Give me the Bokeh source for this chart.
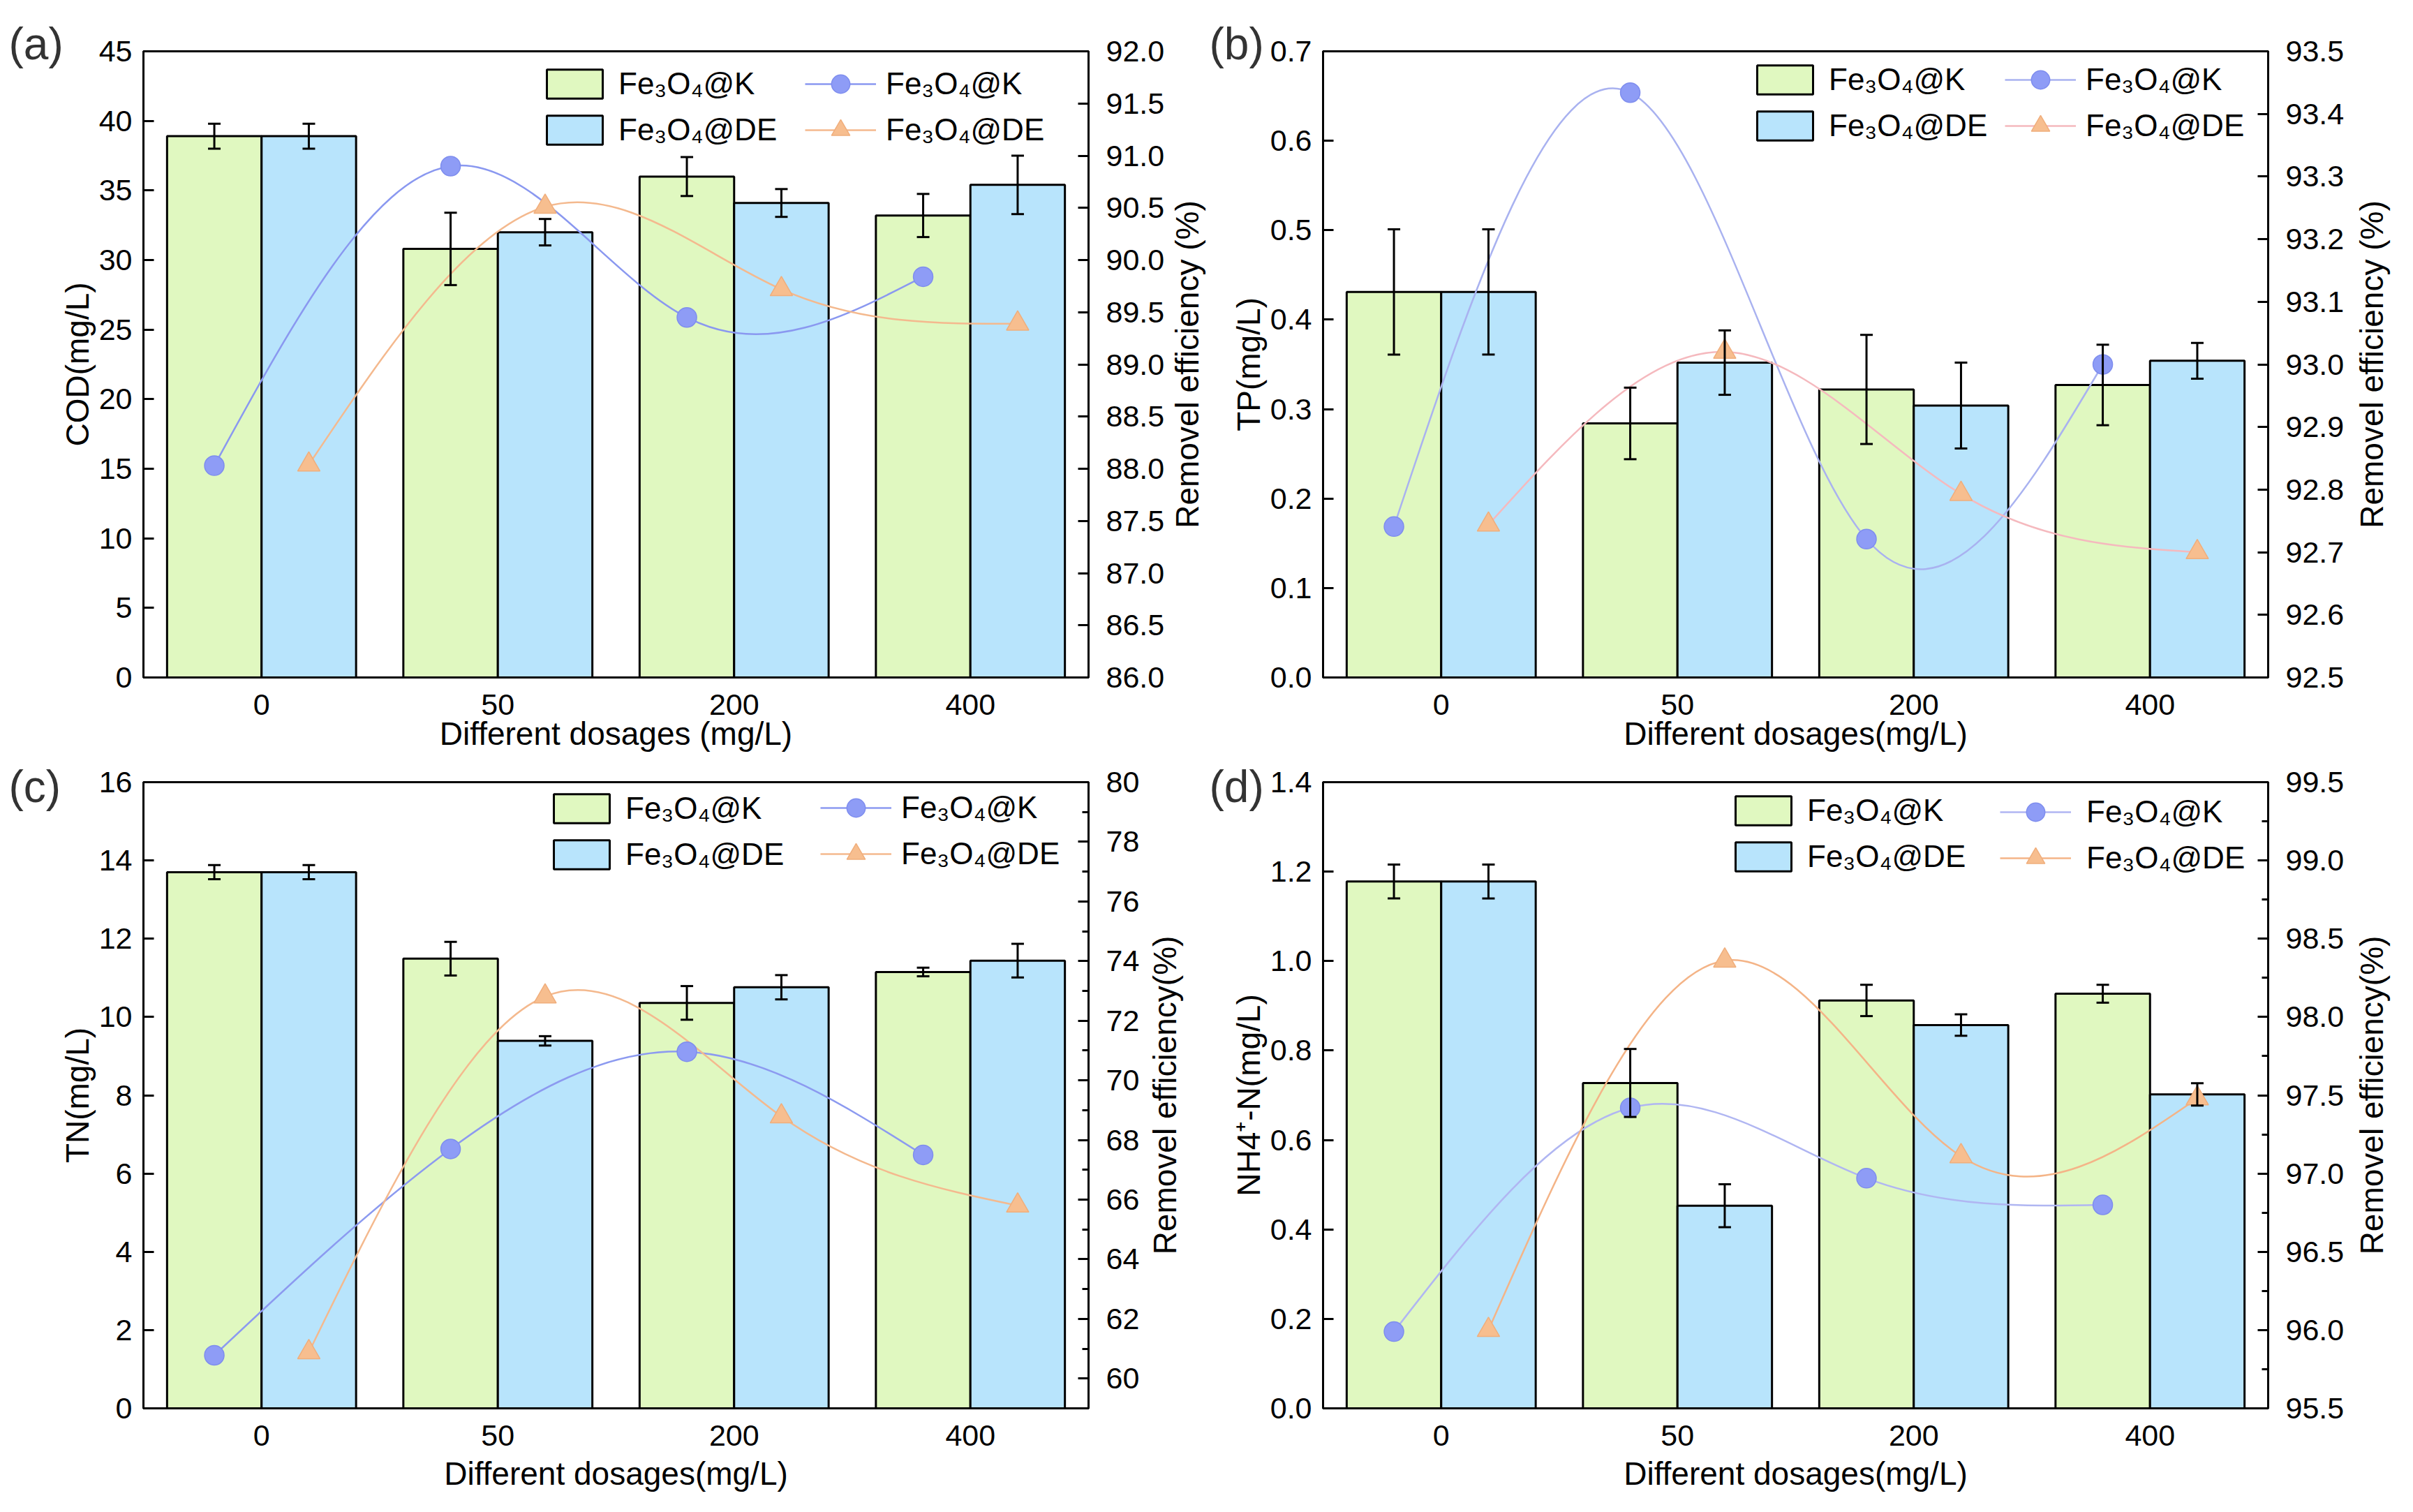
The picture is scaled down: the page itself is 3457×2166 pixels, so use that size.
import math
import numpy as np
from bokeh.plotting import figure
from bokeh.models import (ColumnDataSource, Range1d, LinearAxis, FixedTicker, Whisker, TeeHead,
                          Legend, LegendItem, Title, PrintfTickFormatter)
from bokeh.layouts import column, row
from bokeh.embed import file_html
from bokeh.resources import INLINE

# ---------------- data ----------------
dosages = ["0", "50", "200", "400"]
series_names = ["Fe\u2083O\u2084@K", "Fe\u2083O\u2084@DE"]

# (a) COD
cod_k = [38.9, 30.8, 36.0, 33.2]
cod_k_err = [0.9, 2.6, 1.4, 1.55]
cod_de = [38.9, 32.0, 34.1, 35.4]
cod_de_err = [0.9, 0.95, 1.0, 2.1]
cod_eff_k = [88.03, 90.90, 89.45, 89.84]
cod_eff_de = [88.04, 90.51, 89.72, 89.39]

# (b) TP
tp_k = [0.431, 0.284, 0.322, 0.327]
tp_k_err = [0.07, 0.04, 0.061, 0.045]
tp_de = [0.431, 0.352, 0.304, 0.354]
tp_de_err = [0.07, 0.036, 0.048, 0.02]
tp_eff_k = [92.741, 93.434, 92.721, 93.000]
tp_eff_de = [92.744, 93.020, 92.793, 92.700]

# (c) TN
tn_k = [13.70, 11.49, 10.36, 11.15]
tn_k_err = [0.18, 0.43, 0.43, 0.11]
tn_de = [13.70, 9.39, 10.76, 11.44]
tn_de_err = [0.18, 0.12, 0.31, 0.43]
tn_eff_k = [60.78, 67.70, 70.96, 67.50]
tn_eff_de = [60.88, 72.81, 68.79, 65.80]

# (d) NH4+-N
nh_k = [1.178, 0.7275, 0.912, 0.927]
nh_k_err = [0.038, 0.076, 0.035, 0.02]
nh_de = [1.178, 0.453, 0.857, 0.702]
nh_de_err = [0.038, 0.048, 0.024, 0.025]
nh_eff_k = [95.99, 97.42, 96.97, 96.80]
nh_eff_de = [96.00, 98.36, 97.11, 97.48]

# axis ticks
cod_ticks = [0, 5, 10, 15, 20, 25, 30, 35, 40, 45]
cod_eff_ticks = [86.0, 86.5, 87.0, 87.5, 88.0, 88.5, 89.0, 89.5, 90.0, 90.5, 91.0, 91.5, 92.0]
tp_ticks = [0.0, 0.1, 0.2, 0.3, 0.4, 0.5, 0.6, 0.7]
tp_eff_ticks = [92.5, 92.6, 92.7, 92.8, 92.9, 93.0, 93.1, 93.2, 93.3, 93.4, 93.5]
tn_ticks = [0, 2, 4, 6, 8, 10, 12, 14, 16]
tn_eff_ticks = [60, 62, 64, 66, 68, 70, 72, 74, 76, 78, 80]
tn_eff_minor = [59, 61, 63, 65, 67, 69, 71, 73, 75, 77, 79]
nh_ticks = [0.0, 0.2, 0.4, 0.6, 0.8, 1.0, 1.2, 1.4]
nh_eff_ticks = [95.5, 96.0, 96.5, 97.0, 97.5, 98.0, 98.5, 99.0, 99.5]
nh_eff_minor = [95.75, 96.25, 96.75, 97.25, 97.75, 98.25, 98.75, 99.25]

FONT = "Liberation Sans"
GREEN = "#E0F8C0"
BLUE = "#B8E4FC"
CIRCLE_FILL = "#8E9CF6"
TRI_FILL = "#F7BE8F"


def spline_bezier(xs, ys):
    """Natural cubic spline through the data, expressed as cubic Bezier segments."""
    x = np.asarray(xs, float)
    y = np.asarray(ys, float)
    n = len(x)
    h = np.diff(x)
    A = np.zeros((n, n))
    b = np.zeros(n)
    A[0, 0] = 1.0
    A[-1, -1] = 1.0
    for i in range(1, n - 1):
        A[i, i - 1] = h[i - 1]
        A[i, i] = 2 * (h[i - 1] + h[i])
        A[i, i + 1] = h[i]
        b[i] = 6 * ((y[i + 1] - y[i]) / h[i] - (y[i] - y[i - 1]) / h[i - 1])
    M = np.linalg.solve(A, b)
    s = np.diff(y) / h
    d0 = s - h * (2 * M[:-1] + M[1:]) / 6
    d1 = s + h * (M[:-1] + 2 * M[1:]) / 6
    return dict(x0=x[:-1], y0=y[:-1], x1=x[1:], y1=y[1:],
                cx0=x[:-1] + h / 3, cy0=y[:-1] + d0 * h / 3,
                cx1=x[1:] - h / 3, cy1=y[1:] - d1 * h / 3)


def style_axis(ax, standoff, label_standoff, tick_in=15):
    ax.axis_line_width = 3
    ax.axis_line_color = "black"
    ax.major_tick_line_width = 3
    ax.major_tick_in = tick_in
    ax.major_tick_out = 0
    ax.minor_tick_line_width = 3
    ax.minor_tick_in = 9
    ax.minor_tick_out = 0
    ax.major_label_text_font = FONT
    ax.major_label_text_font_size = "43px"
    ax.major_label_text_color = "black"
    ax.major_label_standoff = standoff
    ax.axis_label_text_font = FONT
    ax.axis_label_text_font_size = "46px"
    ax.axis_label_text_font_style = "normal"
    ax.axis_label_text_color = "black"
    ax.axis_label_standoff = label_standoff


def make_panel(tag, k, k_err, de, de_err, eff_k, eff_de,
               yl, yl_ticks, yl_fmt, yr, yr_ticks, yr_minor, yr_fmt,
               ylabel, xlabel, width, height, borders,
               k_color, de_color, bar_leg, line_leg, line_leg_standoff,
               tag_offset, tag_standoff, x_standoffs):
    bl, br, bt, bb = borders
    p = figure(width=width, height=height, output_backend="svg", toolbar_location=None,
               x_range=Range1d(-0.5, len(dosages) - 0.5), y_range=Range1d(*yl),
               min_border_left=bl, min_border_right=br, min_border_top=bt, min_border_bottom=bb)
    p.extra_y_ranges = {"eff": Range1d(*yr)}
    p.xgrid.visible = False
    p.ygrid.visible = False
    p.outline_line_color = "black"
    p.outline_line_width = 3
    p.outline_line_alpha = 1.0
    p.background_fill_color = "white"
    p.border_fill_color = "white"

    idx = np.arange(len(dosages), dtype=float)
    xk = idx - 0.2
    xd = idx + 0.2
    k = np.asarray(k, float)
    de = np.asarray(de, float)
    src = ColumnDataSource(dict(xk=xk, xd=xd, k=k, de=de,
                                ku=k + np.asarray(k_err), kl=k - np.asarray(k_err),
                                du=de + np.asarray(de_err), dl=de - np.asarray(de_err),
                                ek=eff_k, ed=eff_de))

    vb_k = p.vbar(x="xk", top="k", bottom=0, width=0.4, source=src,
                  fill_color=GREEN, line_color="black", line_width=3)
    vb_d = p.vbar(x="xd", top="de", bottom=0, width=0.4, source=src,
                  fill_color=BLUE, line_color="black", line_width=3)

    for base, up, lo in (("xk", "ku", "kl"), ("xd", "du", "dl")):
        w = Whisker(source=src, base=base, upper=up, lower=lo, dimension="height",
                    line_color="black", line_width=3, level="glyph",
                    upper_head=TeeHead(size=18, line_width=3, line_color="black"),
                    lower_head=TeeHead(size=18, line_width=3, line_color="black"))
        p.add_layout(w)

    bz_k = p.bezier(x0="x0", y0="y0", x1="x1", y1="y1", cx0="cx0", cy0="cy0", cx1="cx1", cy1="cy1",
                    source=ColumnDataSource(spline_bezier(xk, eff_k)),
                    line_color=k_color, line_width=2.5, y_range_name="eff")
    bz_d = p.bezier(x0="x0", y0="y0", x1="x1", y1="y1", cx0="cx0", cy0="cy0", cx1="cx1", cy1="cy1",
                    source=ColumnDataSource(spline_bezier(xd, eff_de)),
                    line_color=de_color, line_width=2.5, y_range_name="eff")
    sc_k = p.scatter(x="xk", y="ek", source=src, marker="circle", size=28,
                     fill_color=CIRCLE_FILL, line_color="#7E8DEE", line_width=1.5, y_range_name="eff")
    sc_d = p.scatter(x="xd", y="ed", source=src, marker="triangle", size=32,
                     fill_color=TRI_FILL, line_color="#F0AE7C", line_width=1.5, y_range_name="eff")

    # x axis
    xa = p.xaxis[0]
    xa.ticker = FixedTicker(ticks=list(range(len(dosages))))
    xa.major_label_overrides = {i: lab for i, lab in enumerate(dosages)}
    style_axis(xa, x_standoffs[0], x_standoffs[1], tick_in=0)
    xa.minor_tick_line_color = None
    xa.axis_label = xlabel

    # left axis
    ya = p.yaxis[0]
    ya.ticker = FixedTicker(ticks=yl_ticks)
    ya.formatter = PrintfTickFormatter(format=yl_fmt)
    style_axis(ya, 16, 2)
    ya.minor_tick_line_color = None
    ya.axis_label = ylabel

    # right axis (its title is drawn by the narrow neighbour figure)
    ra = LinearAxis(y_range_name="eff", ticker=FixedTicker(ticks=yr_ticks, minor_ticks=yr_minor),
                    formatter=PrintfTickFormatter(format=yr_fmt))
    style_axis(ra, 25, 10)
    if not yr_minor:
        ra.minor_tick_line_color = None
    p.add_layout(ra, "right")

    # legends
    bx, by = bar_leg
    leg_b = Legend(items=[LegendItem(label=series_names[0], renderers=[vb_k]),
                          LegendItem(label=series_names[1], renderers=[vb_d])],
                   location=(bx, by - 92), orientation="vertical",
                   glyph_width=100, glyph_height=52, spacing=14, label_standoff=13,
                   padding=0, margin=0, border_line_alpha=0, background_fill_alpha=0,
                   label_text_font=FONT, label_text_font_size="44px", label_text_color="black")
    lx, ly = line_leg
    leg_l = Legend(items=[LegendItem(label=series_names[0], renderers=[bz_k, sc_k]),
                          LegendItem(label=series_names[1], renderers=[bz_d, sc_d])],
                   location=(lx, ly - 99), orientation="vertical",
                   glyph_width=102, glyph_height=66, spacing=0, label_standoff=line_leg_standoff,
                   padding=0, margin=0, border_line_alpha=0, background_fill_alpha=0,
                   label_text_font=FONT, label_text_font_size="44px", label_text_color="black")
    p.add_layout(leg_b)
    p.add_layout(leg_l)

    # panel tag, e.g. "(a)"
    p.add_layout(Title(text=tag, align="left", offset=tag_offset, standoff=tag_standoff,
                       text_font=FONT, text_font_size="64px", text_font_style="normal",
                       text_color="#333333"), "above")
    return p


def side_title(text, width, height, bt, bb):
    """Narrow figure carrying a right-hand axis title that reads bottom-to-top."""
    s = figure(width=width, height=height, output_backend="svg", toolbar_location=None,
               x_axis_type=None, y_axis_type=None, x_range=Range1d(0, 1), y_range=Range1d(0, 1),
               min_border_left=0, min_border_right=0, min_border_top=bt, min_border_bottom=bb)
    s.outline_line_color = None
    s.background_fill_color = "white"
    s.border_fill_color = "white"
    s.add_layout(Title(text=text, align="center", standoff=0, text_font=FONT,
                       text_font_size="46px", text_font_style="normal", text_color="black"), "left")
    return s


H_T, H_B = 1090, 1060
BT_T, BB_T = 73, 120
BT_B, BB_B = 30, 133

pa = make_panel("(a)", cod_k, cod_k_err, cod_de, cod_de_err, cod_eff_k, cod_eff_de,
                (0, 45), cod_ticks, "%d", (86, 92), cod_eff_ticks, [], "%.1f",
                "COD(mg/L)", "Different dosages (mg/L)",
                1672, H_T, (205, 113, BT_T, BB_T), "#8A98F0", "#F4B98E",
                (568, 850), (948, 850), 14, -193, -50, (24, -2))
sa = side_title("Removel efficiency (%)", 58, H_T, BT_T, BB_T)
pb = make_panel("(b)", tp_k, tp_k_err, tp_de, tp_de_err, tp_eff_k, tp_eff_de,
                (0, 0.7), tp_ticks, "%.1f", (92.5, 93.5), tp_eff_ticks, [], "%.1f",
                "TP(mg/L)", "Different dosages(mg/L)",
                1639, H_T, (165, 120, BT_T, BB_T), "#A9B2F0", "#F5B9BE",
                (612, 856), (977, 856), 14, -163, -50, (24, -2))
sb = side_title("Removel efficiency (%)", 72, H_T, BT_T, BB_T)

pc = make_panel("(c)", tn_k, tn_k_err, tn_de, tn_de_err, tn_eff_k, tn_eff_de,
                (0, 16), tn_ticks, "%d", (59, 80), tn_eff_ticks, tn_eff_minor, "%d",
                "TN(mg/L)", "Different dosages(mg/L)",
                1640, H_B, (205, 81, BT_B, BB_B), "#8C9AF0", "#F4B98E",
                (578, 859), (970, 860), 14, -193, -84, (24, 11))
sc = side_title("Removel efficiency(%)", 90, H_B, BT_B, BB_B)
pd_ = make_panel("(d)", nh_k, nh_k_err, nh_de, nh_de_err, nh_eff_k, nh_eff_de,
                 (0, 1.4), nh_ticks, "%.1f", (95.5, 99.5), nh_eff_ticks, nh_eff_minor, "%.1f",
                 "NH4\u207a-N(mg/L)", "Different dosages(mg/L)",
                 1639, H_B, (165, 120, BT_B, BB_B), "#B0B6F2", "#F4B487",
                 (581, 856), (970, 854), 22, -163, -84, (24, 11))
sd = side_title("Removel efficiency(%)", 72, H_B, BT_B, BB_B)

layout = column(row(pa, sa, pb, sb), row(pc, sc, pd_, sd))
open("out.html", "w").write(file_html(layout, INLINE))
